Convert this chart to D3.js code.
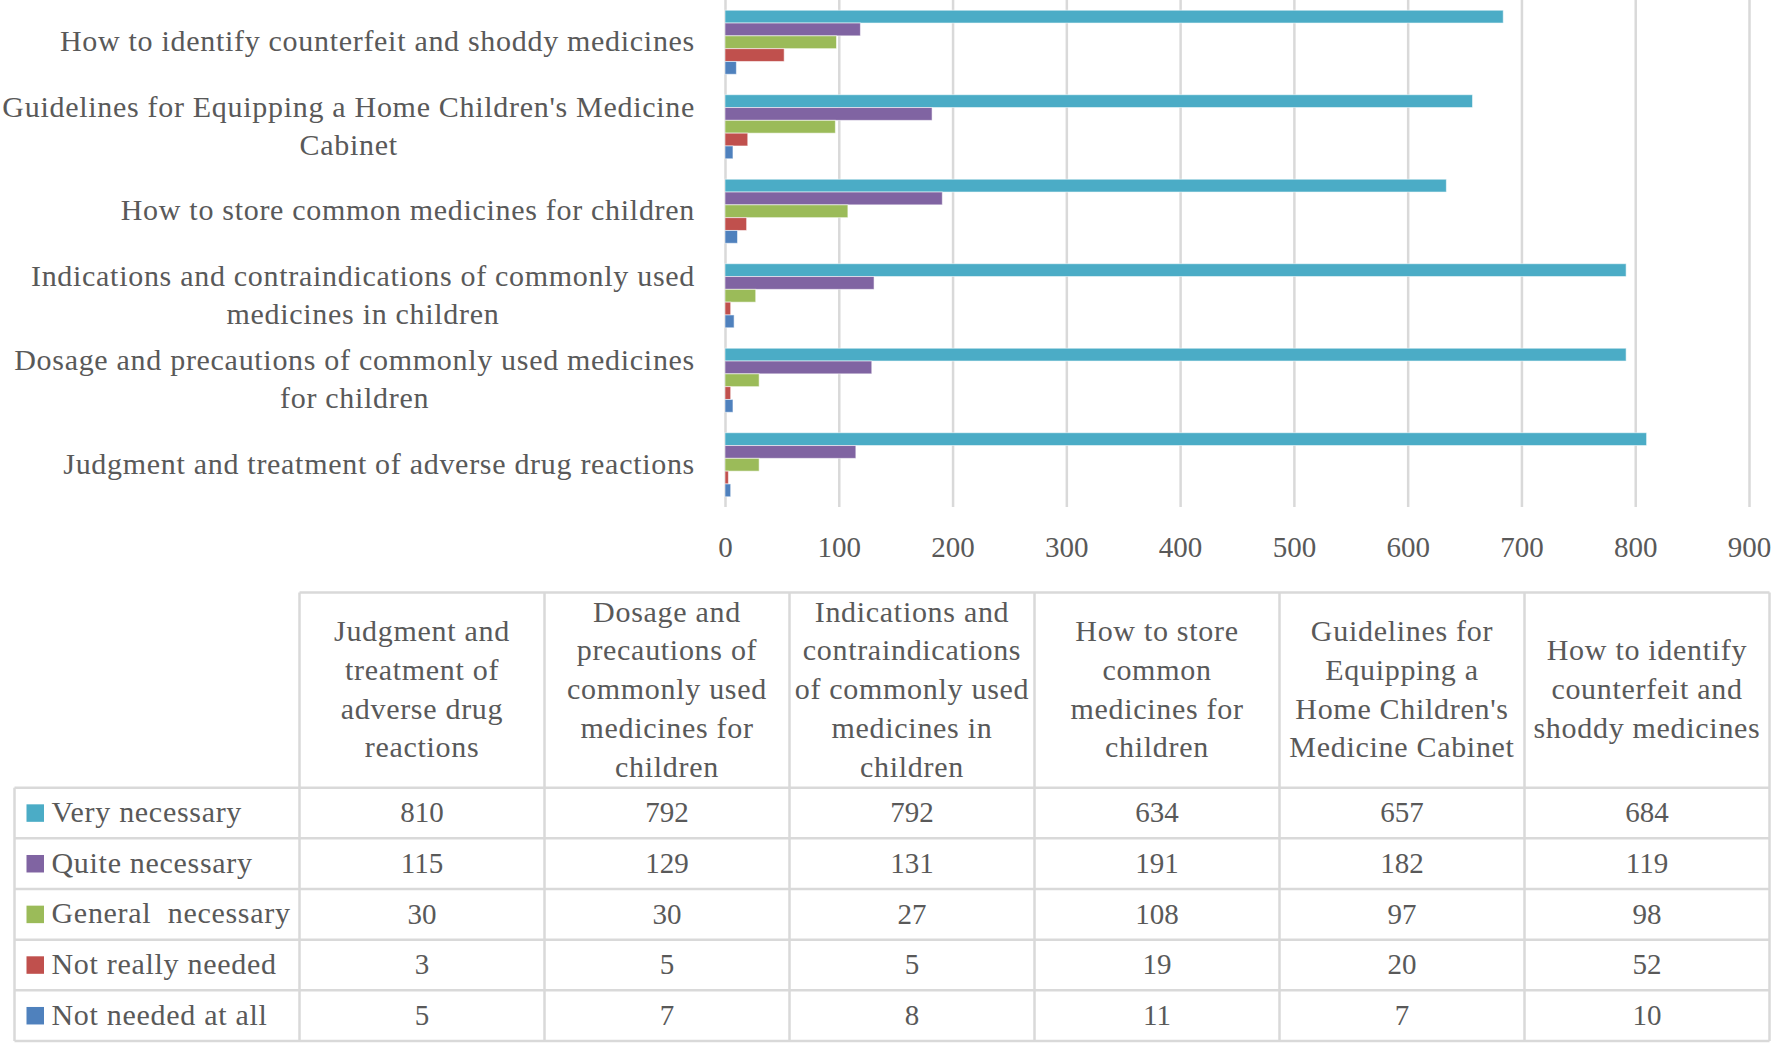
<!DOCTYPE html>
<html>
<head>
<meta charset="utf-8">
<script src="https://cdn.jsdelivr.net/npm/d3@7"></script>
<style>
  html, body { margin: 0; padding: 0; background: #fff; }
  svg { display: block; }
  text { font-family: "Liberation Serif", "Times New Roman", serif; fill: #595959; }
</style>
</head>
<body>
<svg id="chart" width="1772" height="1043"></svg>
<script>
// ---- Data ----
const categories = [
  "Judgment and treatment of adverse drug reactions",
  "Dosage and precautions of commonly used medicines for children",
  "Indications and contraindications of commonly used medicines in children",
  "How to store common medicines for children",
  "Guidelines for Equipping a Home Children's Medicine Cabinet",
  "How to identify counterfeit and shoddy medicines"
];
const axisLabelLines = [
  ["Judgment and treatment of adverse drug reactions"],
  ["Dosage and precautions of commonly used medicines", "for children"],
  ["Indications and contraindications of commonly used", "medicines in children"],
  ["How to store common medicines for children"],
  ["Guidelines for Equipping a Home Children's Medicine", "Cabinet"],
  ["How to identify counterfeit and shoddy medicines"]
];
const headerLines = [
  ["Judgment and", "treatment of", "adverse drug", "reactions"],
  ["Dosage and", "precautions of", "commonly used", "medicines for", "children"],
  ["Indications and", "contraindications", "of commonly used", "medicines in", "children"],
  ["How to store", "common", "medicines for", "children"],
  ["Guidelines for", "Equipping a", "Home Children's", "Medicine Cabinet"],
  ["How to identify", "counterfeit and", "shoddy medicines"]
];
const seriesNames = ["Very necessary", "Quite necessary", "General  necessary", "Not really needed", "Not needed at all"];
const seriesColors = ["#4BACC6", "#8064A2", "#9BBB59", "#C0504D", "#4F81BD"];
const veryNecessary    = [810, 792, 792, 634, 657, 684];
const quiteNecessary   = [115, 129, 131, 191, 182, 119];
const generalNecessary = [30, 30, 27, 108, 97, 98];
const notReallyNeeded  = [3, 5, 5, 19, 20, 52];
const notNeededAtAll   = [5, 7, 8, 11, 7, 10];
const xTickValues = [0, 100, 200, 300, 400, 500, 600, 700, 800, 900];

const seriesValues = [veryNecessary, quiteNecessary, generalNecessary, notReallyNeeded, notNeededAtAll];

// ---- Layout ----
const svg = d3.select("#chart");
const plotTop = 0, plotBottom = 507;
const plotLeft = 725, plotRight = 1749;
const labelRight = 695;
const fontSize = 29;
const wordFont = 30;
const wordSpacing = "0.7px";
const gridColor = "#D9D9D9";

const x = d3.scaleLinear().domain([0, 900]).range([plotLeft, plotRight]);
const y0 = d3.scaleBand()
  .domain(categories.slice().reverse())
  .range([plotTop, plotBottom])
  .paddingInner(0.242)
  .paddingOuter(0.121);
const y1 = d3.scaleBand().domain(seriesNames).range([0, y0.bandwidth()]);

// gridlines + tick labels
const xAxis = d3.axisBottom(x)
  .tickValues(xTickValues)
  .tickFormat(d3.format("d"))
  .tickSizeInner(-(plotBottom - plotTop))
  .tickSizeOuter(0)
  .tickPadding(29);
const gx = svg.append("g").attr("transform", `translate(0,${plotBottom})`).call(xAxis);
gx.select(".domain").remove();
gx.selectAll(".tick line").attr("stroke", gridColor).attr("stroke-width", 2.5);
gx.selectAll(".tick text")
  .attr("font-family", '"Liberation Serif", serif')
  .attr("font-size", fontSize)
  .attr("fill", "#595959");

// bars
const groups = svg.append("g").selectAll("g")
  .data(categories)
  .join("g")
  .attr("transform", d => `translate(0,${y0(d)})`);
groups.selectAll("rect")
  .data((d, ci) => seriesNames.map((s, si) => ({ s, si, v: seriesValues[si][ci] })))
  .join("rect")
  .attr("x", x(0))
  .attr("y", d => y1(d.s))
  .attr("width", d => x(d.v) - x(0))
  .attr("height", y1.bandwidth())
  .attr("fill", d => seriesColors[d.si])
  .attr("stroke", "#ffffff")
  .attr("stroke-opacity", 0.55)
  .attr("stroke-width", 1);

// category labels (wrapped, lines centered within right-aligned block)
const lineGap = 38.4;
categories.forEach((c, ci) => {
  const lines = axisLabelLines[ci];
  const cy = y0(c) + y0.bandwidth() / 2;
  const g = svg.append("g");
  const texts = lines.map((ln, li) => g.append("text")
    .attr("font-size", wordFont)
    .attr("letter-spacing", wordSpacing)
    .attr("text-anchor", "middle")
    .attr("y", cy + (li - (lines.length - 1) / 2) * lineGap)
    .attr("dy", "0.30em")
    .text(ln));
  const maxW = d3.max(texts, t => t.node().getComputedTextLength());
  const cx = Math.max(labelRight - maxW / 2, maxW / 2 + 1);
  texts.forEach(t => t.attr("x", cx));
});

// ---- Table ----
const tableLeft = 14.5;
const colStart = 299.5;
const colW = 245;
const headerTop = 592.5;
const headerBottom = 787.7;
const rowH = 50.66;
const tableRight = colStart + colW * categories.length;
const tableBottom = headerBottom + rowH * seriesNames.length;
const tg = svg.append("g");

// header texts
headerLines.forEach((lines, ci) => {
  const cx = colStart + colW * (ci + 0.5);
  const cy = (headerTop + headerBottom) / 2;
  lines.forEach((ln, li) => {
    tg.append("text")
      .attr("x", cx)
      .attr("y", cy + (li - (lines.length - 1) / 2) * 38.8)
      .attr("dy", "0.30em")
      .attr("text-anchor", "middle")
      .attr("font-size", wordFont)
      .attr("letter-spacing", wordSpacing)
      .text(ln);
  });
});

// rows
seriesNames.forEach((s, si) => {
  const cy = headerBottom + rowH * (si + 0.5);
  tg.append("rect")
    .attr("x", 26.5).attr("y", cy - 8.7)
    .attr("width", 17.5).attr("height", 17.5)
    .attr("fill", seriesColors[si]);
  tg.append("text")
    .attr("x", 51.5).attr("y", cy).attr("dy", "0.30em")
    .attr("font-size", wordFont)
    .attr("letter-spacing", wordSpacing)
    .attr("xml:space", "preserve")
    .style("white-space", "pre")
    .text(s);
  seriesValues[si].forEach((v, ci) => {
    tg.append("text")
      .attr("x", colStart + colW * (ci + 0.5))
      .attr("y", cy).attr("dy", "0.32em")
      .attr("text-anchor", "middle")
      .attr("font-size", fontSize)
      .text(v);
  });
});

// grid lines
const lineAttrs = sel => sel.attr("stroke", gridColor).attr("stroke-width", 2.5);
tg.append("line").attr("x1", colStart).attr("x2", tableRight).attr("y1", headerTop).attr("y2", headerTop).call(lineAttrs);
d3.range(seriesNames.length + 1).forEach(r => {
  const yy = headerBottom + rowH * r;
  tg.append("line").attr("x1", tableLeft).attr("x2", tableRight).attr("y1", yy).attr("y2", yy).call(lineAttrs);
});
tg.append("line").attr("x1", tableLeft).attr("x2", tableLeft).attr("y1", headerBottom).attr("y2", tableBottom).call(lineAttrs);
d3.range(categories.length + 1).forEach(c => {
  const xx = colStart + colW * c;
  tg.append("line").attr("x1", xx).attr("x2", xx).attr("y1", headerTop).attr("y2", tableBottom).call(lineAttrs);
});
</script>
</body>
</html>
